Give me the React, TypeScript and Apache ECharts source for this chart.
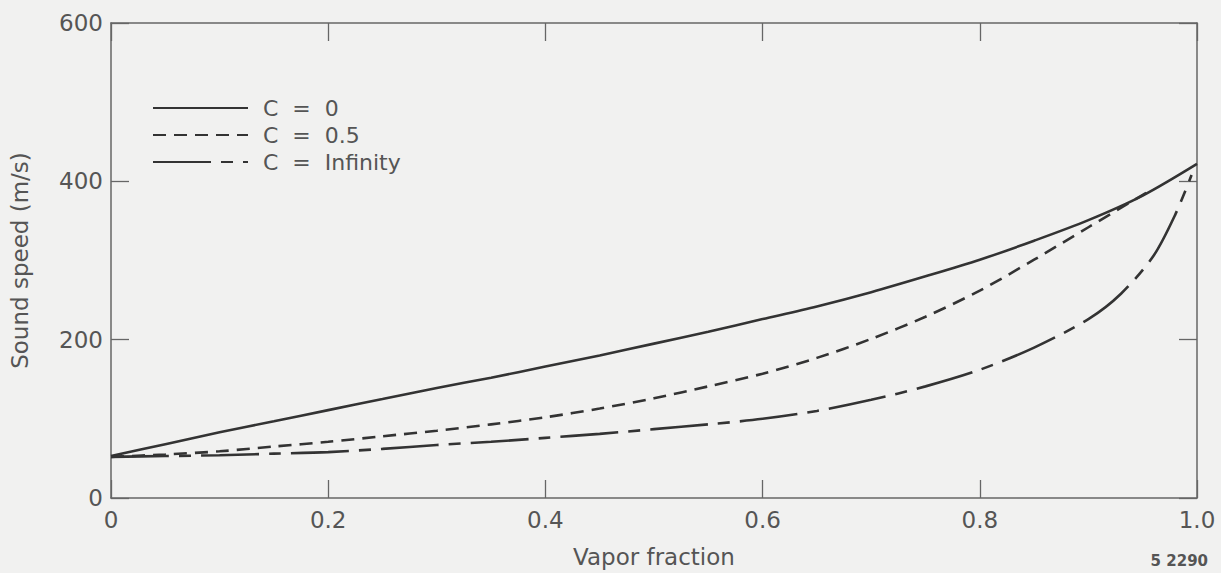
import React, { useEffect, useRef } from "react";
import * as echarts from "echarts";

const vaporFraction = [0, 0.05, 0.1, 0.15, 0.2, 0.25, 0.3, 0.35, 0.4, 0.45, 0.5, 0.55, 0.6, 0.65, 0.7, 0.75, 0.8, 0.85, 0.9, 0.95, 1.0];
const speedC0 = [53, 68, 83, 97, 111, 125, 139, 152, 166, 180, 195, 210, 226, 242, 260, 280, 301, 325, 351, 382, 422];
const cHalfX = [0, 0.05, 0.1, 0.15, 0.2, 0.25, 0.3, 0.35, 0.4, 0.45, 0.5, 0.55, 0.6, 0.65, 0.7, 0.75, 0.8, 0.85, 0.9, 0.955];
const speedCHalf = [52, 55, 59, 65, 71, 78, 85, 93, 102, 113, 126, 141, 157, 177, 201, 229, 262, 301, 342, 387];
const cInfX = [0, 0.05, 0.1, 0.15, 0.2, 0.25, 0.3, 0.35, 0.4, 0.45, 0.5, 0.55, 0.6, 0.65, 0.7, 0.75, 0.8, 0.85, 0.9, 0.93, 0.96, 0.98, 0.995];
const speedCInf = [52, 53, 54, 56, 58, 62, 67, 71, 76, 81, 87, 93, 100, 110, 124, 141, 162, 190, 226, 258, 306, 358, 408];

const seriesNames = ["C  =  0", "C  =  0.5", "C  =  Infinity"];

const FONT = "DejaVu Sans";
const TEXT = "#555";
const LINE = "#333";

export default function App() {
  const ref = useRef<HTMLDivElement>(null);
  useEffect(() => {
    const chart = echarts.init(ref.current!, null, { renderer: "svg" });
    const pair = (xs: number[], ys: number[]) => xs.map((x, i) => [x, ys[i]]);
    const axisCommon = {
      axisLine: { show: true, onZero: false, lineStyle: { color: "#666", width: 1.5 } },
      axisTick: { show: true, inside: true, length: 18, lineStyle: { color: "#666", width: 1.3 } },
      splitLine: { show: false },
    };
    const lineSeries = (name: string, xs: number[], ys: number[], type: any) => ({
      name,
      type: "line",
      smooth: 0.3,
      symbol: "none",
      showSymbol: false,
      data: pair(xs, ys),
      lineStyle: { color: LINE, width: 2.6, type },
      itemStyle: { color: LINE },
    });
    chart.setOption({
      animation: false,
      backgroundColor: "#f1f1f0",
      grid: { left: 109, right: 24, top: 23, bottom: 71 },
      legend: {
        orient: "vertical",
        left: 147,
        top: 92,
        itemWidth: 95,
        itemHeight: 14,
        itemGap: 5,
        data: seriesNames,
        itemStyle: { opacity: 0 },
        textStyle: { fontFamily: FONT, fontSize: 22, color: TEXT, padding: [0, 0, 0, 10] },
      },
      xAxis: [
        {
          type: "value",
          min: 0,
          max: 1,
          interval: 0.2,
          position: "bottom",
          name: "Vapor fraction",
          nameLocation: "middle",
          nameGap: 47,
          nameTextStyle: { fontFamily: FONT, fontSize: 23, color: TEXT },
          axisLabel: {
            fontFamily: FONT,
            fontSize: 23,
            color: TEXT,
            margin: 10,
            formatter: (v: number) => (v === 0 ? "0" : v.toFixed(1)),
          },
          ...axisCommon,
        },
        {
          type: "value",
          min: 0,
          max: 1,
          interval: 0.2,
          position: "top",
          axisLabel: { show: false },
          ...axisCommon,
        },
      ],
      yAxis: [
        {
          type: "value",
          min: 0,
          max: 600,
          interval: 200,
          position: "left",
          name: "Sound speed (m/s)",
          nameLocation: "middle",
          nameGap: 80,
          nameTextStyle: { fontFamily: FONT, fontSize: 23, color: TEXT },
          axisLabel: { fontFamily: FONT, fontSize: 23, color: TEXT, margin: 8 },
          ...axisCommon,
        },
        {
          type: "value",
          min: 0,
          max: 600,
          interval: 200,
          position: "right",
          axisLabel: { show: false },
          ...axisCommon,
        },
      ],
      series: [
        lineSeries(seriesNames[0], vaporFraction, speedC0, "solid"),
        lineSeries(seriesNames[1], cHalfX, speedCHalf, [13, 8]),
        lineSeries(seriesNames[2], cInfX, speedCInf, [58, 10, 12, 10]),
      ],
      graphic: [
        {
          type: "text",
          right: 13,
          top: 553,
          style: { text: "5 2290", font: `bold 15px ${FONT}`, fill: "#555" },
        },
      ],
    });
    return () => chart.dispose();
  }, []);
  return (
    <div
      ref={ref}
      style={{ position: "fixed", left: 0, top: 0, width: 1221, height: 573 }}
    />
  );
}
